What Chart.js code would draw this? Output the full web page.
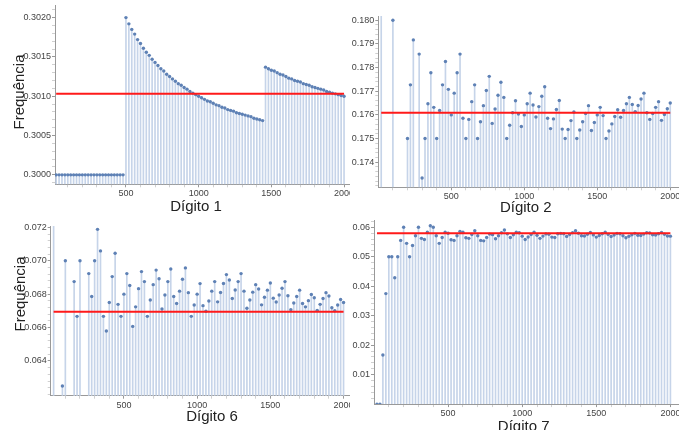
<!DOCTYPE html>
<html>
<head>
<meta charset="utf-8">
<script src="https://cdn.jsdelivr.net/npm/chart.js@4.4.1/dist/chart.umd.min.js"></script>
<style>
  html, body { margin: 0; padding: 0; background: #fff; }
  body { width: 679px; height: 430px; position: relative; overflow: hidden; font-family: 'Liberation Sans', Arial, sans-serif; }
  canvas { position: absolute; }
  .xt { position: absolute; font-size: 15px; line-height: 15px; color: #222; white-space: nowrap; transform: translateX(-50%); }
  .yt { position: absolute; font-size: 15px; line-height: 15px; color: #222; white-space: nowrap; transform: translate(-50%, -50%) rotate(-90deg); }
</style>
</head>
<body>
<canvas id="c1" width="350" height="216" style="left:0;top:0"></canvas>
<canvas id="c2" width="339" height="216" style="left:340px;top:0"></canvas>
<canvas id="c6" width="350" height="214" style="left:0;top:216px"></canvas>
<canvas id="c7" width="339" height="214" style="left:340px;top:216px"></canvas>

<div class="yt" style="left:18.2px;top:91.7px">Frequência</div>
<div class="yt" style="left:18.5px;top:294px">Frequência</div>
<div class="xt" style="left:196px;top:198.3px">Dígito 1</div>
<div class="xt" style="left:525.8px;top:199px">Dígito 2</div>
<div class="xt" style="left:212px;top:408px">Dígito 6</div>
<div class="xt" style="left:523.7px;top:417.6px">Dígito 7</div>

<script>
// sample sizes (x)
const N = [20,40,60,80,100,120,140,160,180,200,220,240,260,280,300,320,340,360,380,400,
  420,440,460,480,500,520,540,560,580,600,620,640,660,680,700,720,740,760,780,800,
  820,840,860,880,900,920,940,960,980,1000,1020,1040,1060,1080,1100,1120,1140,1160,1180,1200,
  1220,1240,1260,1280,1300,1320,1340,1360,1380,1400,1420,1440,1460,1480,1500,1520,1540,1560,1580,1600,
  1620,1640,1660,1680,1700,1720,1740,1760,1780,1800,1820,1840,1860,1880,1900,1920,1940,1960,1980,2000];

const xTickLabels = ['500', '1000', '1500', '2000'];

// frequency of first digit 1
const freq1 = [0.3,0.3,0.3,0.3,0.3,0.3,0.3,0.3,0.3,0.3,0.3,0.3,0.3,0.3,0.3,0.3,0.3,0.3,0.3,0.3,
  0.3,0.3,0.3,0.3,0.30200,0.30192,0.30185,0.30179,0.30172,0.30167,0.30161,0.30156,0.30152,0.30147,0.30143,0.30139,0.30135,0.30132,0.30128,0.30125,
  0.30122,0.30119,0.30116,0.30114,0.30111,0.30109,0.30106,0.30104,0.30102,0.30100,0.30098,0.30096,0.30094,0.30093,0.30091,0.30089,0.30088,0.30086,0.30085,0.30083,
  0.30082,0.30081,0.30079,0.30078,0.30077,0.30076,0.30075,0.30074,0.30072,0.30071,0.30070,0.30069,0.30137,0.30135,0.30133,0.30132,0.30130,0.30128,0.30127,0.30125,
  0.30123,0.30122,0.30120,0.30119,0.30118,0.30116,0.30115,0.30114,0.30112,0.30111,0.30110,0.30109,0.30108,0.30106,0.30105,0.30104,0.30103,0.30102,0.30101,0.30100];

// digit 2 (null = outside the plotted range)
const freq2 = [0.2,null,null,null,0.180,null,null,null,null,0.175,0.17727,0.17917,null,0.17857,0.17333,0.175,0.17647,0.17778,0.17632,0.175,
  0.17619,0.17727,0.17826,0.17708,0.176,0.17692,0.17778,0.17857,0.17586,0.175,0.17581,0.17656,0.17727,0.175,0.17571,0.17639,0.17703,0.17763,0.17564,0.17625,
  0.17683,0.17738,0.17674,0.175,0.17556,0.17609,0.17660,0.17604,0.17551,0.176,0.17647,0.17692,0.17642,0.17591,0.17635,0.17679,0.17719,0.17586,0.17542,0.17583,
  0.17623,0.17661,0.17540,0.17500,0.17538,0.17576,0.17612,0.17500,0.17536,0.17571,0.17606,0.17639,0.17534,0.17568,0.17600,0.17632,0.17597,0.17500,0.17532,0.17562,
  0.17593,0.17622,0.17590,0.17619,0.17647,0.17674,0.17644,0.17614,0.17640,0.17667,0.17692,0.17609,0.17581,0.17606,0.17632,0.17656,0.17577,0.17602,0.17626,0.17650];

// digit 6
const freq6 = [0.1,null,null,0.0625,0.07,null,null,0.06875,0.06667,0.07,null,null,0.06923,0.06786,0.07,0.07188,0.07059,0.06667,0.06579,0.0675,
  0.06905,0.07045,0.06739,0.06667,0.068,0.06923,0.06852,0.06607,0.06724,0.06833,0.06935,0.06875,0.06667,0.06765,0.06857,0.06944,0.06892,0.06711,0.06795,0.06875,
  0.06951,0.06786,0.06744,0.06818,0.06889,0.06957,0.06809,0.06667,0.06735,0.068,0.06863,0.06731,0.06698,0.06759,0.06818,0.06875,0.06754,0.06810,0.06864,0.06917,
  0.06885,0.06774,0.06825,0.06875,0.06923,0.06818,0.06716,0.06765,0.06812,0.06857,0.06831,0.06736,0.06781,0.06824,0.06867,0.06776,0.06753,0.06795,0.06835,0.06875,
  0.06790,0.06707,0.06747,0.06786,0.06824,0.06744,0.06724,0.06761,0.06798,0.06778,0.06703,0.06739,0.06774,0.06809,0.06789,0.06719,0.06701,0.06735,0.06768,0.0675];

// digit 7
const freq7 = [0,0,0.01667,0.0375,0.05,0.05,0.04286,0.05,0.05556,0.06,0.05455,0.05,0.05385,0.05714,0.06,0.05625,0.05588,0.05833,0.06053,0.06,
  0.05714,0.05455,0.05652,0.05833,0.058,0.05577,0.05556,0.05714,0.05862,0.05833,0.05645,0.05625,0.05758,0.05882,0.05714,0.05556,0.05541,0.05658,0.05769,0.0575,
  0.05610,0.05714,0.05814,0.05909,0.05778,0.05652,0.05745,0.05833,0.05816,0.057,0.05588,0.05673,0.05755,0.05833,0.05727,0.05625,0.05702,0.05776,0.05763,0.05667,
  0.05656,0.0578,0.05794,0.05781,0.05692,0.05758,0.05821,0.05882,0.05797,0.05714,0.05704,0.05764,0.05822,0.05743,0.05667,0.05724,0.05779,0.05833,0.05759,0.05688,
  0.05741,0.05793,0.05783,0.05714,0.05647,0.05698,0.05747,0.05795,0.0573,0.05722,0.05769,0.05815,0.05806,0.05745,0.05737,0.05781,0.05825,0.05765,0.05707,0.057];

// expected (Benford) frequencies
const ref1 = 0.30103;
const ref2 = 0.17609;
const ref6 = 0.06695;
const ref7 = 0.05799;

const yLabels1 = ['0.3000', '0.3005', '0.3010', '0.3015', '0.3020'];
const yLabels2 = ['0.174', '0.175', '0.176', '0.177', '0.178', '0.179', '0.180'];
const yLabels6 = ['0.064', '0.066', '0.068', '0.070', '0.072'];
const yLabels7 = ['0.01', '0.02', '0.03', '0.04', '0.05', '0.06'];

const tickFont = { family: "'Liberation Sans', Arial, sans-serif", size: 9 };

function panel(id, o) {
  const pts = N.map((n, i) => ({ x: n, y: o.values[i] }));
  const yMajor = o.yLabels.map(parseFloat);
  const yStep = yMajor[1] - yMajor[0];
  const xMajor = xTickLabels.map(Number);

  const yTicks = [];
  for (let k = -25; k <= 5 * yMajor.length + 5; k++) {
    const v = yMajor[0] + k * yStep / 5;
    if (v > o.yMin + yStep * 0.01 && v <= o.yMax) yTicks.push(v);
  }
  const xTicks = [];
  for (let v = 100; v <= o.xMax; v += 100) if (v > o.xMin) xTicks.push(v);

  const isMajorY = v => yMajor.findIndex(m => Math.abs(m - v) < yStep * 1e-3);

  new Chart(document.getElementById(id), {
    type: 'bar',
    data: {
      datasets: [
        {
          type: 'line',
          data: [{ x: 20, y: o.ref }, { x: 2000, y: o.ref }],
          borderColor: '#ff1a1a',
          borderWidth: 2,
          pointRadius: 0,
          order: 0
        },
        {
          type: 'line',
          data: pts,
          showLine: false,
          pointRadius: 1.7,
          pointBackgroundColor: '#5e81b5',
          pointBorderWidth: 0,
          order: 1
        },
        {
          type: 'bar',
          data: pts,
          backgroundColor: '#c6d4e9',
          barThickness: 1,
          base: o.yMin,
          order: 2
        }
      ]
    },
    options: {
      responsive: false,
      animation: false,
      events: [],
      layout: { padding: { top: o.padTop, left: 0, right: 0, bottom: 0 }, autoPadding: false },
      plugins: { legend: { display: false }, tooltip: { enabled: false } },
      scales: {
        x: {
          type: 'linear',
          offset: false,
          min: o.xMin,
          max: o.xMax,
          afterBuildTicks: s => { s.ticks = xTicks.map(v => ({ value: v })); },
          afterFit: s => { s.height = o.xAxisH; s.paddingLeft = 0; s.paddingRight = 0; },
          ticks: {
            autoSkip: false,
            maxRotation: 0,
            padding: 1,
            color: '#444',
            font: tickFont,
            callback: v => (xMajor.includes(v) ? xTickLabels[xMajor.indexOf(v)] : '')
          },
          grid: {
            offset: false,
            drawOnChartArea: false,
            tickLength: 3,
            tickColor: ctx => (ctx.tick && xMajor.includes(ctx.tick.value) ? '#999' : '#d0d0d0')
          },
          border: { color: '#999' }
        },
        y: {
          min: o.yMin,
          max: o.yMax,
          afterBuildTicks: s => { s.ticks = yTicks.map(v => ({ value: v })); },
          afterFit: s => { s.width = o.yAxisW; s.paddingTop = 0; s.paddingBottom = 0; },
          ticks: {
            autoSkip: false,
            padding: 1,
            color: '#444',
            font: tickFont,
            callback: v => { const i = isMajorY(v); return i >= 0 ? o.yLabels[i] : ''; }
          },
          grid: {
            drawOnChartArea: false,
            tickLength: 3,
            tickColor: ctx => (ctx.tick && isMajorY(ctx.tick.value) >= 0 ? '#999' : '#d0d0d0')
          },
          border: { color: '#999' }
        }
      }
    }
  });
}

panel('c1', { values: freq1, ref: ref1, yLabels: yLabels1, yMin: 0.29988, yMax: 0.30216,
  xMin: 12, xMax: 2041, yAxisW: 55, xAxisH: 31.7, padTop: 5 });
panel('c2', { values: freq2, ref: ref2, yLabels: yLabels2, yMin: 0.17294, yMax: 0.18018,
  xMin: 0, xMax: 2060, yAxisW: 38.3, xAxisH: 28.7, padTop: 16 });
panel('c6', { values: freq6, ref: ref6, yLabels: yLabels6, yMin: 0.06192, yMax: 0.07208,
  xMin: 0, xMax: 2044, yAxisW: 50.7, xAxisH: 34.3, padTop: 10 });
panel('c7', { values: freq7, ref: ref7, yLabels: yLabels7, yMin: 0, yMax: 0.06248,
  xMin: 0, xMax: 2058, yAxisW: 34, xAxisH: 25.9, padTop: 4 });
</script>
</body>
</html>
